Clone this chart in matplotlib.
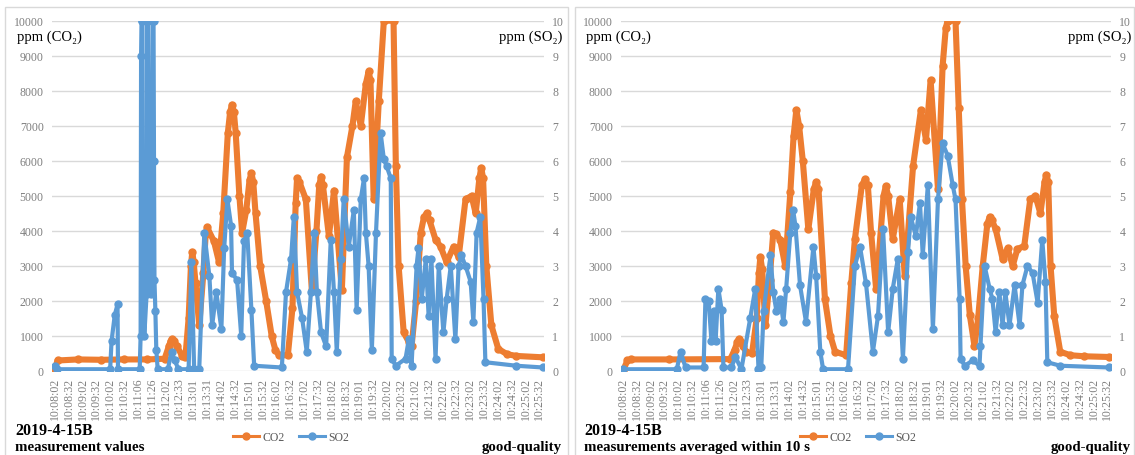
import numpy as np
import matplotlib
matplotlib.use("Agg")
import matplotlib.pyplot as plt
from matplotlib.patches import Rectangle
from matplotlib.lines import Line2D

# ---------------- data ----------------
time_labels = ["10:08:02", "10:08:32", "10:09:02", "10:09:32", "10:10:02", "10:10:32",
               "10:11:06", "10:11:26", "10:12:02", "10:12:33", "10:13:01", "10:13:31",
               "10:14:02", "10:14:32", "10:15:01", "10:15:32", "10:16:02", "10:16:32",
               "10:17:02", "10:17:32", "10:18:02", "10:18:32", "10:19:01", "10:19:32",
               "10:20:02", "10:20:32", "10:21:02", "10:21:32", "10:22:02", "10:22:32",
               "10:23:02", "10:23:32", "10:24:02", "10:24:32", "10:25:02", "10:25:32"]
label_step = 30  # samples between labelled times

# Left panel: raw measurement values (sample index, value)
raw_co2_t = [0, 6, 50, 100, 150, 200, 238, 247, 251, 255, 259, 265, 276, 283, 290, 295, 298,
             301, 305, 313, 322, 327, 330, 345, 356, 365, 375, 380, 384, 388, 392, 400, 406,
             415, 422, 426, 430, 435, 445, 458, 470, 478, 486, 505, 515, 522, 525, 530, 544,
             557, 567, 573, 577, 581, 594, 605, 622, 633, 645, 652, 663, 674, 680, 684, 691,
             702, 713, 734, 739, 745, 756, 767, 773, 783, 793, 800, 806, 812, 825, 836, 849,
             864, 875, 890, 903, 912, 920, 924, 928, 935, 946, 961, 980, 1000, 1058]
raw_co2 = [50, 300, 330, 320, 330, 330, 350, 700, 850, 900, 850, 700, 430, 400, 1500, 3000,
           3400, 3100, 2500, 1300, 2800, 3900, 4100, 3700, 3100, 4500, 6800, 7400, 7600, 7400,
           6800, 5000, 3950, 4600, 5450, 5650, 5400, 4500, 3000, 2000, 1000, 600, 450, 450,
           1800, 4800, 5500, 5400, 4900, 2300, 4000, 5300, 5550, 5300, 3850, 5150, 2300, 6100,
           7000, 7700, 7000, 8200, 8550, 8300, 4900, 7700, 10000, 10000, 5850, 3000, 1100,
           830, 700, 2000, 3950, 4400, 4500, 4300, 3750, 3550, 3100, 3550, 3250, 4900, 5000,
           4500, 5500, 5800, 5500, 3000, 1300, 630, 480, 430, 390]

raw_so2_t = [0, 5, 120, 123, 130, 136, 137, 184, 186, 187, 188, 190, 191, 194, 199, 200, 202,
             203, 208, 212, 214, 215, 216, 218, 220, 223, 245, 253, 260, 268, 290, 296, 302,
             313, 324, 335, 341, 350, 361, 367, 374, 382, 384, 395, 404, 410, 417, 426, 432,
             492, 501, 512, 518, 525, 536, 546, 555, 562, 568, 577, 588, 598, 605, 611, 620,
             626, 637, 648, 654, 663, 670, 674, 680, 687, 696, 706, 713, 719, 728, 730, 739,
             760, 767, 773, 784, 788, 795, 804, 810, 816, 825, 832, 842, 849, 858, 868, 875,
             881, 890, 901, 907, 914, 922, 929, 933, 1000, 1058]
raw_so2 = [0.15, 0.05, 0.05, 0.85, 1.6, 1.9, 0.05, 0.05, 1.0, 9.0, 10, 10, 2.3, 1.0, 2.2, 10,
           10, 2.4, 2.2, 10, 10, 6.0, 2.6, 1.7, 0.6, 0.05, 0.05, 0.55, 0.3, 0.05, 0.05, 3.1,
           0.05, 0.05, 3.95, 2.7, 1.3, 2.25, 1.2, 3.5, 4.9, 4.15, 2.8, 2.6, 1.0, 3.7, 3.95,
           1.75, 0.15, 0.1, 2.25, 3.2, 4.4, 2.25, 1.5, 0.55, 2.25, 3.95, 2.25, 1.1, 0.7, 3.75,
           2.25, 0.55, 3.2, 4.9, 3.55, 4.6, 1.75, 4.9, 5.5, 3.95, 3.0, 0.6, 3.95, 6.8, 6.05,
           5.85, 5.5, 0.35, 0.15, 0.35, 0.9, 0.15, 3.0, 3.5, 2.05, 3.2, 1.57, 3.2, 0.35, 3.0,
           1.1, 2.05, 3.0, 0.9, 3.0, 3.3, 3.0, 2.55, 1.4, 3.95, 4.4, 2.05, 0.25, 0.15, 0.1]

# Right panel: measurements averaged within 10 s
avg_co2_t = [0, 10, 17, 100, 233, 242, 248, 251, 255, 260, 268, 280, 290, 295, 298, 302, 309,
             318, 326, 333, 341, 352, 363, 370, 376, 382, 390, 402, 414, 419, 424, 438, 450,
             460, 484, 495, 503, 518, 525, 531, 538, 549, 565, 570, 575, 585, 600, 611, 629,
             646, 657, 667, 683, 693, 700, 704, 721, 728, 735, 743, 752, 762, 770, 780, 790,
             795, 800, 808, 823, 834, 845, 855, 870, 883, 894, 905, 914, 918, 922, 927, 935,
             948, 970, 1000, 1054]
avg_co2 = [0, 300, 330, 330, 340, 600, 820, 900, 820, 700, 540, 500, 1500, 2800, 3250, 2900,
           1300, 2600, 3950, 3900, 3750, 3000, 5100, 6700, 7450, 7000, 6000, 4050, 5200, 5400,
           5200, 2050, 1000, 550, 450, 2500, 3770, 5300, 5480, 5300, 3950, 2340, 5000, 5280,
           5000, 3770, 4900, 2700, 5850, 7450, 6600, 8300, 5200, 8700, 9800, 10000, 10000,
           7500, 4900, 3000, 1600, 720, 1500, 3000, 4200, 4400, 4300, 4050, 3200, 3500, 3000,
           3480, 3570, 4900, 5000, 4500, 5400, 5600, 5400, 3000, 1570, 550, 450, 420, 400]

avg_so2_t = [0, 117, 125, 136, 175, 179, 186, 192, 197, 201, 207, 214, 218, 235, 244, 257, 276,
             287, 294, 300, 305, 320, 326, 333, 341, 348, 354, 363, 369, 374, 384, 397, 413, 419,
             428, 434, 488, 503, 514, 527, 542, 553, 564, 575, 585, 596, 607, 618, 624, 635, 644,
             650, 661, 672, 683, 693, 704, 715, 721, 730, 732, 741, 758, 773, 775, 784, 795, 801,
             808, 816, 823, 829, 838, 849, 860, 866, 877, 888, 899, 909, 916, 920, 948, 1054]
avg_so2 = [0.05, 0.05, 0.55, 0.1, 0.1, 2.05, 2.0, 0.85, 1.7, 0.85, 2.35, 1.75, 0.1, 0.1, 0.4,
           0.05, 1.5, 2.35, 0.05, 0.1, 1.7, 3.3, 2.25, 1.7, 2.05, 1.4, 2.35, 3.95, 4.6, 4.15,
           2.45, 1.4, 3.55, 2.7, 0.55, 0.05, 0.05, 3.0, 3.55, 2.5, 0.55, 1.57, 4.05, 1.1, 2.35,
           3.2, 0.35, 3.4, 4.4, 3.85, 4.8, 3.3, 5.3, 1.2, 4.9, 6.5, 6.15, 5.3, 4.9, 2.05, 0.35,
           0.15, 0.3, 0.15, 0.7, 3.0, 2.35, 2.05, 1.1, 2.25, 1.3, 2.25, 1.3, 2.45, 1.3, 2.45,
           3.0, 2.8, 1.95, 3.75, 2.55, 0.25, 0.15, 0.1]

co2_ticks = list(range(0, 10001, 1000))
so2_ticks = list(range(0, 11))

# ---------------- style ----------------
W, H = 1135, 456
CO2_C = "#ED7D31"
SO2_C = "#5B9BD5"
GRID_C = "#D9D9D9"
TICK_C = "#7F7F7F"
LEG_C = "#595959"
SERIF = ["Liberation Serif", "DejaVu Serif"]

plt.rcParams["font.family"] = SERIF

fig = plt.figure(figsize=(W / 100, H / 100), dpi=100)


def fx(px):
    return px / W


def fy(py):
    return 1 - py / H


# panel frames
for x0, x1 in [(5, 568), (575, 1134)]:
    fig.patches.append(Rectangle((fx(x0), fy(470)), fx(x1 - x0), (470 - 8) / H,
                                 transform=fig.transFigure, fill=False,
                                 edgecolor=GRID_C, lw=1.0))


def panel(left_px, width_px, xlim, t1, v1, t2, v2, x_off, bottom_title, legend_cx):
    ax = fig.add_axes([fx(left_px), fy(372), fx(width_px), (372 - 21.7) / H])
    ax.set_xlim(*xlim)
    ax.set_ylim(0, 10000)
    ax.set_yticks(co2_ticks)
    ax.set_yticklabels([str(v) for v in co2_ticks])
    ax.grid(axis="y", color=GRID_C, lw=1.0)
    ax.set_axisbelow(True)
    ticks = [i * label_step for i in range(len(time_labels))]
    ax.set_xticks(ticks)
    ax.set_xticklabels(time_labels, rotation=90)
    ax.tick_params(axis="both", length=0, colors=TICK_C, labelsize=8.5)
    ax.tick_params(axis="y", pad=6)
    ax.tick_params(axis="x", pad=4)
    for s in ax.spines.values():
        s.set_visible(False)
    ax.plot(t1, v1, color=CO2_C, lw=4.4, marker="o", ms=5,
            solid_joinstyle="round", solid_capstyle="round", zorder=3)

    ax2 = ax.twinx()
    ax2.set_ylim(0, 10)
    ax2.set_yticks(so2_ticks)
    ax2.set_yticklabels([str(v) for v in so2_ticks])
    ax2.tick_params(axis="y", length=0, colors=TICK_C, labelsize=8.5, pad=6)
    for s in ax2.spines.values():
        s.set_visible(False)
    ax2.plot(t2, v2, color=SO2_C, lw=3.0, marker="o", ms=5,
             solid_joinstyle="round", solid_capstyle="round", zorder=3)

    # axis unit labels
    fig.text(fx(x_off + 12), fy(37), "ppm (CO₂)", fontsize=10.5, va="center", ha="left",
             color="black", family=SERIF)
    fig.text(fx(x_off + 557), fy(37), "ppm (SO₂)", fontsize=10.5, va="center", ha="right",
             color="black", family=SERIF)
    # bottom texts
    fig.text(fx(x_off + 10), fy(431), "2019-4-15B", fontsize=11.5, fontweight="bold",
             va="center", ha="left", family=SERIF)
    fig.text(fx(x_off + 10), fy(448), bottom_title, fontsize=10.7, fontweight="bold",
             va="center", ha="left", family=SERIF)
    fig.text(fx(x_off + 557), fy(448), "good-quality", fontsize=10.7, fontweight="bold",
             va="center", ha="right", family=SERIF)
    # legend
    handles = [Line2D([], [], color=CO2_C, lw=2.2, marker="o", ms=5),
               Line2D([], [], color=SO2_C, lw=2.2, marker="o", ms=5)]
    fig.legend(handles, ["CO2", "SO2"], loc="center", ncol=2, frameon=False,
               bbox_to_anchor=(fx(legend_cx), fy(438)), fontsize=8.5,
               labelcolor=LEG_C, handlelength=2.2, columnspacing=1.2, handletextpad=0.3)
    return ax, ax2


panel(52, 492, (-6, 1060), raw_co2_t, raw_co2, raw_so2_t, raw_so2, 5,
      "measurement values", 291)
panel(621, 490, (-4, 1058), avg_co2_t, avg_co2, avg_so2_t, avg_so2, 574,
      "measurements averaged within 10 s", 858)

fig.savefig("out.png", dpi=100)
